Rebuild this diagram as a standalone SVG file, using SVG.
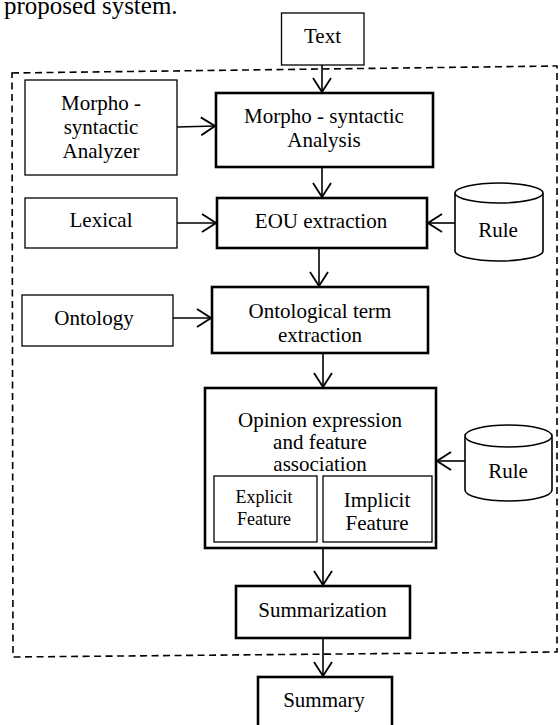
<svg xmlns="http://www.w3.org/2000/svg" width="560" height="725" viewBox="0 0 560 725" font-family="'Liberation Serif', 'Times New Roman', serif">
<style>
text{font-family:'Liberation Serif','Times New Roman',serif;font-size:21px;fill:#000;text-anchor:middle}
.thin{fill:#fff;stroke:#000;stroke-width:1.3}
.thick{fill:#fff;stroke:#000;stroke-width:2.6}
.cyl{fill:#fff;stroke:#000;stroke-width:1.6}
.conn line{stroke:#000;stroke-width:1.6;marker-end:url(#ah)}
.dash{fill:none;stroke:#000;stroke-width:1.6;stroke-dasharray:7 4.5}
.small{font-size:18px}
</style>
<defs>
<marker id="ah" viewBox="0 0 16 20" refX="15" refY="10" markerWidth="16" markerHeight="20" markerUnits="userSpaceOnUse" orient="auto">
<path d="M1,1 L15,10 L1,19" fill="none" stroke="#000" stroke-width="1.8"/>
</marker>
</defs>
<text x="4" y="14" style="text-anchor:start;font-size:25px">proposed system.</text>
<path class="dash" d="M12,73 L557,66 L557,652 L13,657 Z"/>
<g id="text-node"><rect class="thin" x="281.5" y="13" width="82.5" height="52"/><text x="322.5" y="43">Text</text></g>
<g id="morpho-analyzer"><rect class="thin" x="25" y="80" width="152" height="95"/><text x="101" y="110">Morpho -</text><text x="101" y="134">syntactic</text><text x="101" y="158">Analyzer</text></g>
<g id="morpho-analysis"><rect class="thick" x="216" y="93" width="217" height="74"/><text x="324" y="123">Morpho - syntactic</text><text x="324" y="147">Analysis</text></g>
<g id="lexical"><rect class="thin" x="25" y="198" width="152" height="50"/><text x="101" y="227">Lexical</text></g>
<g id="eou"><rect class="thick" x="217" y="198" width="210" height="50"/><text x="321" y="228">EOU extraction</text></g>
<g id="rule1"><path class="cyl" d="M455,193 L455,251 A44,10 0 0 0 543,251 L543,193 A44,10 0 0 0 455,193 A44,10 0 0 0 543,193"/><text x="498" y="237">Rule</text></g>
<g id="ontology"><rect class="thin" x="22" y="295" width="151" height="51"/><text x="94" y="325">Ontology</text></g>
<g id="ontological"><rect class="thick" x="212" y="287" width="216" height="66"/><text x="320" y="318">Ontological term</text><text x="320" y="342">extraction</text></g>
<g id="opinion"><rect class="thick" x="205" y="388" width="231" height="160"/><text x="320" y="427">Opinion expression</text><text x="320" y="449">and feature</text><text x="320" y="471">association</text>
<g id="explicit"><rect class="thin" x="214" y="476" width="103" height="66"/><text class="small" x="264" y="503">Explicit</text><text class="small" x="264" y="525">Feature</text></g>
<g id="implicit"><rect class="thin" x="323" y="476" width="109" height="66"/><text x="377" y="507">Implicit</text><text x="377" y="530">Feature</text></g></g>
<g id="rule2"><path class="cyl" d="M465,436 L465,490 A43.5,11 0 0 0 552,490 L552,436 A43.5,11 0 0 0 465,436 A43.5,11 0 0 0 552,436"/><text x="508" y="478">Rule</text></g>
<g id="summarization"><rect class="thick" x="236" y="586" width="174" height="52"/><text x="322.5" y="617">Summarization</text></g>
<g id="summary"><rect class="thick" x="258" y="677" width="134" height="52"/><text x="324" y="707">Summary</text></g>
<g id="connectors" class="conn">
<line x1="322" y1="65" x2="322" y2="92"/>
<line x1="177" y1="127" x2="215" y2="126"/>
<line x1="322" y1="167" x2="322" y2="197"/>
<line x1="177" y1="223" x2="216" y2="223"/>
<line x1="455" y1="223" x2="428" y2="223"/>
<line x1="319" y1="248" x2="319" y2="286"/>
<line x1="173" y1="318" x2="211" y2="318"/>
<line x1="323" y1="353" x2="323" y2="387"/>
<line x1="465" y1="461" x2="437" y2="461"/>
<line x1="323" y1="548" x2="323" y2="585"/>
<line x1="323" y1="638" x2="323" y2="676"/>
</g>
</svg>
